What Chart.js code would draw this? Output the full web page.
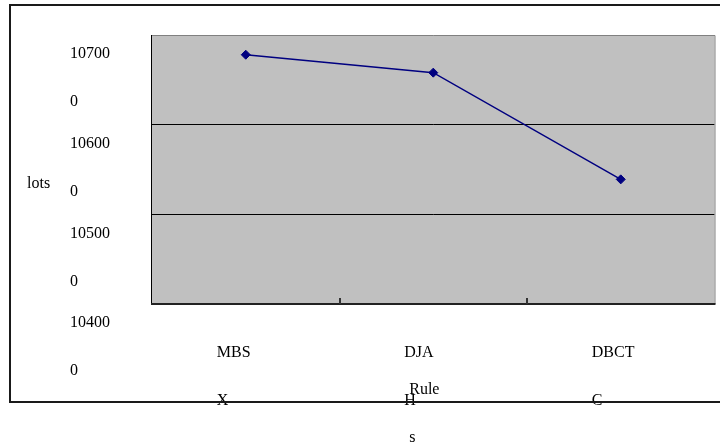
<!DOCTYPE html>
<html>
<head>
<meta charset="utf-8">
<script src="https://cdn.jsdelivr.net/npm/chart.js@4/dist/chart.umd.min.js"></script>
<style>
  html, body { margin: 0; padding: 0; background: #ffffff; }
  #wrap { width: 720px; height: 445px; }
</style>
</head>
<body>
<div id="wrap"><canvas id="chart" width="720" height="445"></canvas></div>
<script>
// Rule names (each split into its printed lines) and lots per rule
const categories = [['MBS', 'X'], ['DJA', 'H'], ['DBCT', 'C']];
const lots = [106780, 106580, 105390];

// Value axis range and step
const yMin = 104000;
const yMax = 107000;
const yStep = 1000;

// Axis titles, as printed line by line
const yTitle = ['lots'];
const xTitle = ['Rule', 's'];

const FONT = '"Liberation Serif", "Times New Roman", serif';
const FONT_SIZE = 16;
const LINE = 48;

// Frame, plot background, inner tick marks and axis titles
const decorations = {
  id: 'decorations',
  beforeDraw(chart) {
    const { ctx, chartArea: a } = chart;
    ctx.save();
    ctx.fillStyle = '#ffffff';
    ctx.fillRect(0, 0, chart.width, chart.height);
    ctx.fillStyle = '#c0c0c0';
    ctx.fillRect(a.left, a.top, a.right - a.left, a.bottom - a.top);
    ctx.restore();
  },
  afterDatasetsDraw(chart) {
    const { ctx, chartArea: a } = chart;
    const xs = chart.scales.x;
    ctx.save();
    // plot border
    ctx.lineWidth = 1;
    ctx.strokeStyle = '#808080';
    ctx.beginPath();
    ctx.moveTo(a.left, a.top + 0.5);
    ctx.lineTo(a.right + 0.5, a.top + 0.5);
    ctx.lineTo(a.right + 0.5, a.bottom);
    ctx.stroke();
    ctx.strokeStyle = '#000000';
    ctx.beginPath();
    ctx.moveTo(a.left - 0.5, a.top);
    ctx.lineTo(a.left - 0.5, a.bottom);
    ctx.stroke();
    ctx.lineWidth = 2;
    ctx.strokeStyle = '#222222';
    ctx.beginPath();
    ctx.moveTo(a.left - 1, a.bottom);
    ctx.lineTo(a.right + 1, a.bottom);
    ctx.stroke();
    // tick marks between categories, pointing into the plot
    ctx.lineWidth = 2;
    ctx.strokeStyle = '#333333';
    for (let i = 0; i < categories.length - 1; i++) {
      const x = Math.round((xs.getPixelForValue(i) + xs.getPixelForValue(i + 1)) / 2);
      ctx.beginPath();
      ctx.moveTo(x, a.bottom);
      ctx.lineTo(x, a.bottom - 6);
      ctx.stroke();
    }
    ctx.restore();
  },
  afterDraw(chart) {
    const { ctx, chartArea: a } = chart;
    ctx.save();
    // outer frame
    ctx.lineWidth = 2;
    ctx.strokeStyle = '#1a1a1a';
    ctx.beginPath();
    ctx.moveTo(chart.width, 5);
    ctx.lineTo(10, 5);
    ctx.lineTo(10, 402);
    ctx.lineTo(chart.width, 402);
    ctx.stroke();
    // axis titles
    ctx.fillStyle = '#000000';
    ctx.font = FONT_SIZE + 'px ' + FONT;
    ctx.textBaseline = 'middle';
    ctx.textAlign = 'left';
    const yMid = (a.top + a.bottom) / 2;
    yTitle.forEach((t, i) => ctx.fillText(t, 27, yMid + 14 + i * LINE));
    const xMid = (a.left + a.right) / 2;
    xTitle.forEach((t, i) => ctx.fillText(t, xMid - 24, a.bottom + 86 + i * LINE));
    ctx.restore();
  }
};

new Chart(document.getElementById('chart'), {
  type: 'line',
  data: {
    labels: categories,
    datasets: [{
      data: lots,
      borderColor: '#000080',
      backgroundColor: '#000080',
      borderWidth: 1.5,
      pointStyle: 'rectRot',
      pointRadius: 4.5,
      pointBorderWidth: 1,
      pointBorderColor: '#000080',
      pointBackgroundColor: '#000080',
      tension: 0,
      fill: false
    }]
  },
  options: {
    responsive: false,
    animation: false,
    devicePixelRatio: 1,
    layout: { padding: { left: 70, top: 35, right: 4, bottom: 0 } },
    plugins: { legend: { display: false }, tooltip: { enabled: false }, title: { display: false } },
    scales: {
      x: {
        type: 'category',
        offset: true,
        grid: { display: false, drawTicks: false },
        border: { display: false },
        ticks: {
          align: 'start',
          labelOffset: -29,
          padding: 25,
          color: '#000000',
          font: { family: FONT, size: FONT_SIZE, lineHeight: LINE / FONT_SIZE },
          maxRotation: 0,
          autoSkip: false
        },
        afterFit(s) { s.height = 141; s.paddingLeft = 0; s.paddingRight = 0; }
      },
      y: {
        min: yMin,
        max: yMax,
        grid: {
          drawTicks: false,
          lineWidth: 1,
          color: (c) => (c.tick && c.tick.value > yMin && c.tick.value < yMax) ? '#000000' : 'rgba(0,0,0,0)'
        },
        border: { display: false },
        ticks: {
          stepSize: yStep,
          autoSkip: false,
          crossAlign: 'far',
          labelOffset: 43,
          padding: 0,
          color: '#000000',
          font: { family: FONT, size: FONT_SIZE, lineHeight: LINE / FONT_SIZE },
          callback: (v) => { const s = String(v); return [s.slice(0, 5), s.slice(5)]; }
        },
        afterFit(s) { s.width = 82; s.paddingTop = 0; s.paddingBottom = 0; }
      }
    }
  },
  plugins: [decorations]
});
</script>
</body>
</html>
